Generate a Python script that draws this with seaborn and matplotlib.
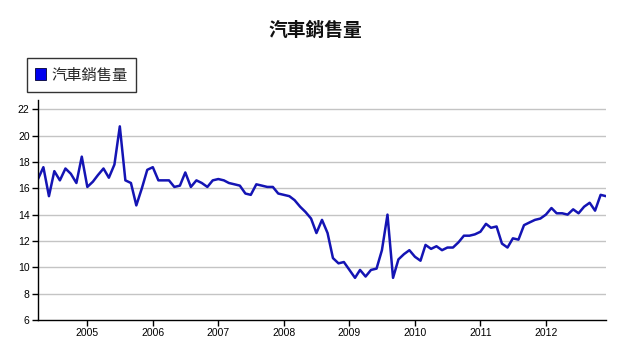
import matplotlib
matplotlib.use("Agg")
import matplotlib.pyplot as plt
import matplotlib.dates as mdates
from matplotlib.patches import Patch
import pandas as pd
import seaborn as sns

# Monthly light-vehicle sales, seasonally adjusted annual rate (millions)
start_month = "2004-04"
sales = [
    16.7, 17.6, 15.4, 17.3, 16.6, 17.5, 17.1, 16.4, 18.4,              # 2004 Apr-Dec
    16.1, 16.5, 17.0, 17.5, 16.8, 17.8, 20.7, 16.6, 16.4, 14.7, 16.0, 17.4,  # 2005
    17.6, 16.6, 16.6, 16.6, 16.1, 16.2, 17.2, 16.1, 16.6, 16.4, 16.1, 16.6,  # 2006
    16.7, 16.6, 16.4, 16.3, 16.2, 15.6, 15.5, 16.3, 16.2, 16.1, 16.1, 15.6,  # 2007
    15.5, 15.4, 15.1, 14.6, 14.2, 13.7, 12.6, 13.6, 12.6, 10.7, 10.3, 10.4,  # 2008
    9.8, 9.2, 9.8, 9.3, 9.8, 9.9, 11.3, 14.0, 9.2, 10.6, 11.0, 11.3,         # 2009
    10.8, 10.5, 11.7, 11.4, 11.6, 11.3, 11.5, 11.5, 11.9, 12.4, 12.4, 12.5,  # 2010
    12.7, 13.3, 13.0, 13.1, 11.8, 11.5, 12.2, 12.1, 13.2, 13.4, 13.6, 13.7,  # 2011
    14.0, 14.5, 14.1, 14.1, 14.0, 14.4, 14.1, 14.6, 14.9, 14.3, 15.5, 15.4,  # 2012
]
series_name = "汽車銷售量"
title_text = "汽車銷售量"
y_ticks = [6, 8, 10, 12, 14, 16, 18, 20, 22]
year_ticks = [2005, 2006, 2007, 2008, 2009, 2010, 2011, 2012]

months = pd.date_range(start_month, periods=len(sales), freq="MS")
df = pd.DataFrame({"month": months, "sales": sales})

sns.set_style("white")
plt.rcParams["font.family"] = ["Liberation Sans", "Noto Sans CJK TC", "DejaVu Sans"]

line_color = "#1414b4"

fig = plt.figure(figsize=(6.35, 3.46), dpi=100)
ax = fig.add_axes([38 / 635, 1 - 320 / 346, (606 - 38) / 635, (320 - 100) / 346])

sns.lineplot(data=df, x="month", y="sales", ax=ax, color=line_color,
             linewidth=1.8, legend=False)
for ln in ax.get_lines():
    ln.set_solid_joinstyle("round")
    ln.set_solid_capstyle("round")

ax.set_xlim(months[0], months[-1])
ax.set_ylim(6, 22.7)
ax.set_yticks(y_ticks)
ax.set_yticklabels([str(v) for v in y_ticks])
ax.set_xticks([pd.Timestamp(f"{y}-01-01") for y in year_ticks])
ax.xaxis.set_major_formatter(mdates.DateFormatter("%Y"))
ax.set_xlabel("")
ax.set_ylabel("")

for v in y_ticks[1:]:
    ax.axhline(v, color="#c4c4c4", linewidth=1.0, zorder=0)

for side in ("top", "right"):
    ax.spines[side].set_visible(False)
for side in ("left", "bottom"):
    ax.spines[side].set_color("black")
    ax.spines[side].set_linewidth(1.0)

ax.tick_params(axis="both", which="major", direction="out", length=4, width=1,
               color="black", labelsize=7.5, labelcolor="black", pad=2,
               bottom=True, left=True)

fig.text(315 / 635, 1 - 30 / 346, title_text, ha="center", va="center",
         fontsize=13.5, fontweight="bold", color="#111111",
         family=["Noto Sans CJK TC", "DejaVu Sans"])

handle = Patch(facecolor="#0000ee", edgecolor="#000033", linewidth=0.6)
leg = fig.legend([handle], [series_name], loc="upper left",
                 bbox_to_anchor=(26.5 / 635, 1 - 58 / 346), borderaxespad=0,
                 frameon=True, fancybox=False, fontsize=11,
                 prop={"family": ["Noto Sans CJK TC", "DejaVu Sans"], "size": 11},
                 handlelength=0.75, handleheight=0.75, handletextpad=0.3,
                 borderpad=0.55)
leg.get_frame().set_edgecolor("black")
leg.get_frame().set_linewidth(1.0)

fig.savefig("out.png", dpi=100, facecolor="white")
